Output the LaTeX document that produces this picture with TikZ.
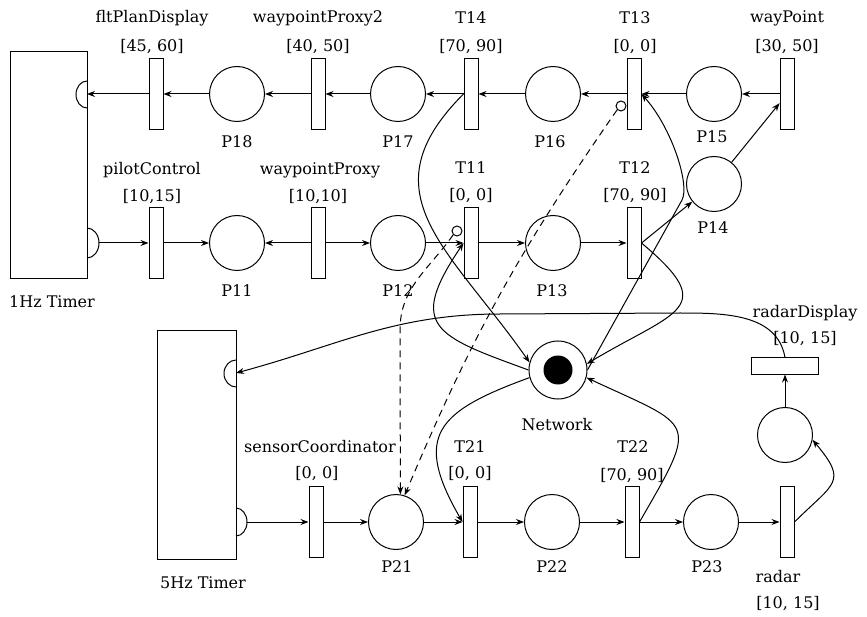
\documentclass[tikz,border=0pt]{standalone}
\usepackage{fontspec}
\setmainfont{DejaVu Serif}
\usetikzlibrary{arrows.meta}

\begin{document}
\begin{tikzpicture}[x=1pt,y=-1pt,line width=1pt,
    timer/.style={draw,rectangle,inner sep=0pt,minimum width=77pt,minimum height=227pt},
    trans/.style={draw,rectangle,inner sep=0pt,minimum width=14pt,minimum height=71pt},
    htrans/.style={draw,rectangle,inner sep=0pt,minimum width=67pt,minimum height=16pt},
    place/.style={draw,circle,inner sep=0pt,minimum size=55pt},
    inhib/.style={draw,circle,inner sep=0pt,minimum size=10pt},
    lbl/.style={inner sep=0pt,font=\fontsize{16}{18}\selectfont},
    flow/.style={-{Stealth[length=8pt,width=6pt]}},
    dflow/.style={flow,dash pattern=on 7pt off 5pt}
  ]
  \useasboundingbox (0,0) rectangle (867,617);

  % timers and their ports
  \node[timer] (hz1) at (48.5,165.5) {};
  \node[timer,minimum width=79pt,minimum height=228pt] (hz5) at (196.5,445) {};
  \draw (87,81) arc[start angle=90,end angle=270,x radius=11pt,y radius=13.5pt];
  \draw (87,228) arc[start angle=90,end angle=-90,x radius=12pt,y radius=15pt];
  \draw (236,360) arc[start angle=90,end angle=270,x radius=12pt,y radius=13.5pt];
  \draw (236,508) arc[start angle=90,end angle=-90,x radius=11pt,y radius=14pt];
  \coordinate (hz1in) at (87,94);
  \coordinate (hz1out) at (99,243);
  \coordinate (hz5in) at (236,373);
  \coordinate (hz5out) at (247,522);

  % upper net
  \node[trans] (flt) at (156,94) {};
  \node[place] (P18) at (237,94) {};
  \node[trans] (wp2) at (318,94) {};
  \node[place] (P17) at (398,94) {};
  \node[trans] (T14) at (471,94) {};
  \node[place] (P16) at (553,94) {};
  \node[trans] (T13) at (634,94) {};
  \node[place] (P15) at (714,94) {};
  \node[trans] (wp) at (787,94) {};
  \node[trans] (pc) at (156,243) {};
  \node[place] (P11) at (237,243) {};
  \node[trans] (wpx) at (318,243) {};
  \node[place] (P12) at (398,243) {};
  \node[trans] (T11) at (471,243) {};
  \node[place] (P13) at (553,243) {};
  \node[trans] (T12) at (634,243) {};
  \node[place] (P14) at (714,184) {};
  \node[inhib] (inh1) at (457,231) {};
  \node[inhib] (inh2) at (621,106) {};

  % network
  \node[place,minimum size=58pt] (net) at (558,370) {};
  \fill (net.center) circle[radius=14.5pt];

  % lower net
  \node[trans] (sc) at (316,522) {};
  \node[place] (P21) at (396,522) {};
  \node[trans] (T21) at (470,522) {};
  \node[place] (P22) at (552,522) {};
  \node[trans] (T22) at (632,522) {};
  \node[place] (P23) at (711,522) {};
  \node[trans] (radar) at (787,522) {};
  \node[place] (rplace) at (785,435) {};
  \node[htrans] (rd) at (785,366) {};

  % labels
  \node[lbl] (flt-n) at (152,18) {fltPlanDisplay};
  \node[lbl] (flt-t) at (152,47) {[45, 60]};
  \node[lbl] (wp2-n) at (318,18) {waypointProxy2};
  \node[lbl] (wp2-t) at (318,47) {[40, 50]};
  \node[lbl] (T14-n) at (471,18) {T14};
  \node[lbl] (T14-t) at (471,47) {[70, 90]};
  \node[lbl] (T13-n) at (635,18) {T13};
  \node[lbl] (T13-t) at (635,47) {[0, 0]};
  \node[lbl] (wp-n) at (787,18) {wayPoint};
  \node[lbl] (wp-t) at (787,47) {[30, 50]};
  \node[lbl] (P18-n) at (237,142) {P18};
  \node[lbl] (P17-n) at (398,142) {P17};
  \node[lbl] (P16-n) at (550,142) {P16};
  \node[lbl] (P15-n) at (712,137) {P15};
  \node[lbl] (pc-n) at (152,170) {pilotControl};
  \node[lbl] (pc-t) at (152,197) {[10,15]};
  \node[lbl] (wpx-n) at (320,170) {waypointProxy};
  \node[lbl] (wpx-t) at (318,197) {[10,10]};
  \node[lbl] (T11-n) at (471,168) {T11};
  \node[lbl] (T11-t) at (471,196) {[0, 0]};
  \node[lbl] (T12-n) at (635,168) {T12};
  \node[lbl] (T12-t) at (635,196) {[70, 90]};
  \node[lbl] (P14-n) at (713,228) {P14};
  \node[lbl] (P11-n) at (237,291) {P11};
  \node[lbl] (P12-n) at (398,291) {P12};
  \node[lbl] (P13-n) at (552,291) {P13};
  \node[lbl] (hz1-n) at (52,302) {1Hz Timer};
  \node[lbl] (rd-n) at (805,313) {radarDisplay};
  \node[lbl] (rd-t) at (805,339) {[10, 15]};
  \node[lbl] (net-n) at (557,425) {Network};
  \node[lbl] (sc-n) at (320,447) {sensorCoordinator};
  \node[lbl] (sc-t) at (317,474) {[0, 0]};
  \node[lbl] (T21-n) at (470,447) {T21};
  \node[lbl] (T21-t) at (470,474) {[0, 0]};
  \node[lbl] (T22-n) at (633,447) {T22};
  \node[lbl] (T22-t) at (632,476) {[70, 90]};
  \node[lbl] (hz5-n) at (203,583) {5Hz Timer};
  \node[lbl] (P21-n) at (397,567) {P21};
  \node[lbl] (P22-n) at (552,567) {P22};
  \node[lbl] (P23-n) at (707,567) {P23};
  \node[lbl] (radar-n) at (778,577) {radar};
  \node[lbl] (radar-t) at (788,604) {[10, 15]};

  % upper arcs
  \draw[flow] (wp) -- (P15);
  \draw[flow] (P15) -- (T13);
  \draw[flow] (T13) -- (P16);
  \draw[flow] (P16) -- (T14);
  \draw[flow] (T14) -- (P17);
  \draw[flow] (P17) -- (wp2);
  \draw[flow] (wp2) -- (P18);
  \draw[flow] (P18) -- (flt);
  \draw[flow] (flt) -- (hz1in);
  \draw[flow] (hz1out) -- (pc);
  \draw[flow] (pc) -- (P11);
  \draw[flow] (wpx) -- (P11);
  \draw[flow] (wpx) -- (P12);
  \draw[flow] (P12) -- (T11);
  \draw[flow] (T11) -- (P13);
  \draw[flow] (P13) -- (T12);
  \draw[flow] (T12.east) -- (P14);
  \draw[flow] (P14) -- (wp);

  % arcs through the network
  \draw[flow] (T14.west) to[out=-135,in=125,looseness=1.3] (net.165);
  \draw[flow] (net.180) to[out=160,in=-124,looseness=1.8] (T11.west);
  \draw[flow] (net.195) to[out=200,in=120,looseness=1.6] (T21.west);
  \draw[flow] (T12.east) to[out=-40,in=31,looseness=2] (net.12);
  \draw[flow] (net.0) -- (682,200) .. controls (690,185) and (672,128) .. (T13.east);
  \draw[flow] (T22.east) to[out=60,in=-25,looseness=2] (net.-15);

  % inhibitor links
  \draw[dflow] (inh1.south west) to[out=-125,in=90] (400,330) -- (P21.81);
  \draw[dflow] (inh2.south west) to[bend right=6] (P21.72);

  % lower arcs
  \draw[flow] (hz5out) -- (sc);
  \draw[flow] (sc) -- (P21);
  \draw[flow] (P21) -- (T21);
  \draw[flow] (T21) -- (P22);
  \draw[flow] (P22) -- (T22);
  \draw[flow] (T22) -- (P23);
  \draw[flow] (P23) -- (radar);
  \draw[flow] (radar.east) to[out=45,in=-50,looseness=1.7] (rplace.-10);
  \draw[flow] (rplace) -- (rd);
  \draw[flow] (rd.north) to[out=100,in=0] (680,313) -- (500,314)
    to[out=180,in=15] (hz5in);
\end{tikzpicture}
\end{document}
